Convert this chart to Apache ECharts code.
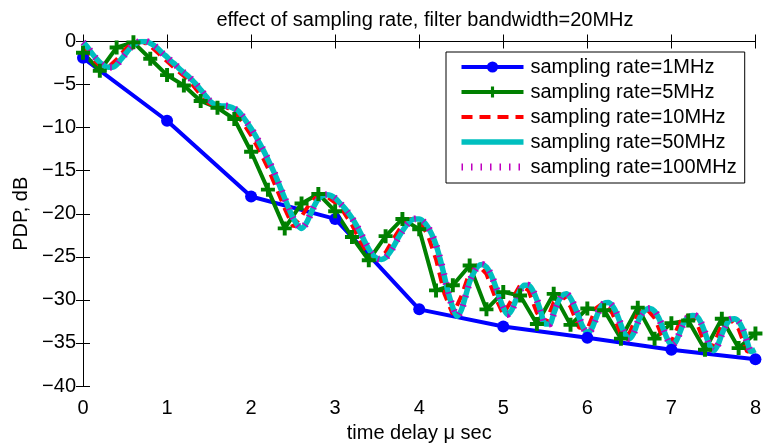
<!DOCTYPE html>
<html>
<head>
<meta charset="utf-8">
<script src="https://cdn.jsdelivr.net/npm/echarts@6/dist/echarts.min.js"></script>
<style>
  html, body { margin: 0; padding: 0; background: #fff; }
  #chart { width: 764px; height: 448px; }
</style>
</head>
<body>
<div id="chart"></div>
<script>
// Power delay profile (dB) versus time delay (microseconds) for several sampling rates.
const seriesNames = [
  'sampling rate=1MHz',
  'sampling rate=5MHz',
  'sampling rate=10MHz',
  'sampling rate=50MHz',
  'sampling rate=100MHz'
];

const xTicks = [0, 1, 2, 3, 4, 5, 6, 7, 8];
const yTicks = [-40, -35, -30, -25, -20, -15, -10, -5, 0];

// 1 MHz: one sample per microsecond
const step1 = 1;
const rate1 = [-1.9, -9.2, -18.0, -20.6, -31.1, -33.1, -34.4, -35.8, -36.9];

// 5 MHz: one sample every 0.2 us
const step5 = 0.2;
const rate5 = [
  -1.3, -3.4, -0.7, -0.1, -2.0, -3.9, -5.1, -6.9, -7.7, -9.0,
  -12.8, -17.2, -21.7, -18.8, -17.7, -19.7, -22.7, -25.4, -22.6, -20.6,
  -21.8, -28.9, -28.3, -26.0, -31.1, -29.1, -29.5, -32.8, -29.3, -32.9,
  -31.0, -31.2, -34.5, -30.9, -34.5, -32.7, -32.4, -35.8, -32.2, -35.6,
  -33.9
];

// 10 MHz: one sample every 0.1 us
const step10 = 0.1;
const rate10 = [
  -0.6, -1.9, -2.8, -3.0, -2.1, -0.9, -0.1, 0.0, -0.5, -1.4,
  -2.3, -3.2, -4.0, -5.0, -6.2, -7.2, -7.5, -7.6, -8.1, -9.4,
  -10.9, -12.7, -14.7, -17.0, -19.4, -21.5, -20.3, -18.8, -17.8, -18.0,
  -18.7, -19.8, -21.3, -23.2, -24.8, -25.3, -24.5, -22.8, -21.3, -20.6,
  -20.9, -22.4, -25.3, -29.3, -31.7, -29.6, -26.8, -25.9, -27.0, -29.6,
  -31.7, -30.0, -28.3, -28.9, -31.5, -32.8, -30.3, -29.3, -30.8, -33.2,
  -33.4, -31.0, -30.3, -31.6, -34.0, -33.9, -31.6, -31.0, -32.1, -34.5,
  -34.9, -32.6, -31.8, -32.6, -35.2, -35.3, -32.9, -32.2, -33.4, -36.0,
  -35.9
];

// 50 MHz: read every 0.05 us along the fine trace
const step50 = 0.05;
const rate50 = [
  -0.1, -0.6, -1.3, -1.9, -2.4, -2.8, -3.0, -3.0, -2.7, -2.1,
  -1.5, -0.9, -0.4, -0.1, 0.0, 0.0, -0.2, -0.5, -0.9, -1.4,
  -1.8, -2.3, -2.7, -3.2, -3.6, -4.0, -4.5, -5.0, -5.6, -6.2,
  -6.8, -7.2, -7.4, -7.5, -7.5, -7.6, -7.8, -8.1, -8.7, -9.4,
  -10.1, -10.9, -11.8, -12.7, -13.7, -14.7, -15.8, -17.0, -18.2, -19.4,
  -20.5, -21.3, -21.7, -21.2, -20.2, -19.1, -18.3, -17.9, -17.8, -17.9,
  -18.2, -18.7, -19.2, -19.8, -20.5, -21.3, -22.2, -23.2, -24.1, -24.8,
  -25.2, -25.3, -25.1, -24.5, -23.7, -22.8, -22.0, -21.3, -20.8, -20.6,
  -20.6, -20.9, -21.5, -22.4, -23.6, -25.3, -27.3, -29.3, -30.9, -31.9,
  -31.2, -29.6, -27.9, -26.8, -26.1, -25.9, -26.2, -27.0, -28.2, -29.6,
  -30.9, -31.7, -31.2, -30.0, -28.9, -28.3, -28.3, -28.9, -30.0, -31.5,
  -32.8, -32.8, -31.6, -30.3, -29.5, -29.3, -29.8, -30.8, -32.0, -33.2,
  -33.8, -33.4, -32.2, -31.0, -30.4, -30.3, -30.7, -31.6, -32.9, -34.0,
  -34.5, -33.9, -32.6, -31.6, -31.1, -31.0, -31.3, -32.1, -33.3, -34.5,
  -35.2, -34.9, -33.8, -32.6, -32.0, -31.8, -31.9, -32.6, -33.8, -35.2,
  -35.9, -35.3, -34.0, -32.9, -32.3, -32.2, -32.5, -33.4, -34.8, -36.0,
  -35.8
];

// 100 MHz: the trace lies on top of the 50 MHz one
const step100 = 0.05;
const rate100 = rate50.slice();

function pairs(values, step) {
  return values.map((v, i) => [Math.round(i * step * 1000) / 1000, v]);
}

const FONT = "'Liberation Sans', Arial, Helvetica, sans-serif";
const minus = v => String(v).replace('-', '\u2212');

const plusPath = 'path://M3.6,0H6.4V3.6H10V6.4H6.4V10H3.6V6.4H0V3.6H3.6Z';

const chart = echarts.init(document.getElementById('chart'), null, { renderer: 'canvas' });

const boxAxis = {
  axisLine: { show: true, lineStyle: { color: '#000', width: 1 } },
  axisTick: { show: true, inside: true, length: 7, lineStyle: { color: '#000', width: 1 } },
  splitLine: { show: false }
};

chart.setOption({
  animation: false,
  backgroundColor: '#fff',
  textStyle: { fontFamily: FONT },
  title: {
    text: 'effect of sampling rate, filter bandwidth=20MHz',
    left: 420,
    top: 5,
    textAlign: 'center',
    textStyle: { fontFamily: FONT, fontSize: 20, fontWeight: 'normal', color: '#000' }
  },
  grid: { left: 83, right: 7, top: 41.5, bottom: 58, containLabel: false },
  xAxis: [
    Object.assign({
      type: 'value', min: xTicks[0], max: xTicks[xTicks.length - 1], interval: 1,
      position: 'bottom',
      name: 'time delay \u03bc sec', nameLocation: 'middle', nameGap: 37,
      nameTextStyle: { fontFamily: FONT, fontSize: 20, color: '#000' },
      axisLabel: { margin: 12, fontFamily: FONT, fontSize: 20, color: '#000' }
    }, boxAxis),
    Object.assign({
      type: 'value', min: xTicks[0], max: xTicks[xTicks.length - 1], interval: 1,
      position: 'top', axisLabel: { show: false }
    }, boxAxis)
  ],
  yAxis: [
    Object.assign({
      type: 'value', min: yTicks[0], max: yTicks[yTicks.length - 1], interval: 5,
      position: 'left',
      name: 'PDP, dB', nameLocation: 'middle', nameGap: 52,
      nameTextStyle: { fontFamily: FONT, fontSize: 20, color: '#000' },
      axisLabel: { margin: 7, fontFamily: FONT, fontSize: 20, color: '#000', formatter: minus }
    }, boxAxis),
    Object.assign({
      type: 'value', min: yTicks[0], max: yTicks[yTicks.length - 1], interval: 5,
      position: 'right', axisLabel: { show: false }
    }, boxAxis)
  ],
  legend: {
    orient: 'vertical',
    left: 446,
    top: 52,
    padding: [5, 8, 6, 12],
    itemWidth: 62,
    itemHeight: 14,
    itemGap: 5,
    backgroundColor: '#fff',
    borderColor: '#000',
    borderWidth: 1,
    textStyle: { fontFamily: FONT, fontSize: 20, lineHeight: 20, color: '#000', padding: [0, 0, 0, 2] },
    lineStyle: { width: 'inherit', type: 'inherit' },
    data: [
      { name: seriesNames[0] },
      { name: seriesNames[1] },
      { name: seriesNames[2], itemStyle: { opacity: 0 } },
      { name: seriesNames[3], itemStyle: { opacity: 0 } },
      { name: seriesNames[4], itemStyle: { opacity: 0 } }
    ]
  },
  series: [
    {
      name: seriesNames[0], type: 'line', data: pairs(rate1, step1),
      symbol: 'circle', symbolSize: 12, showSymbol: true,
      lineStyle: { color: '#0000ff', width: 4 },
      itemStyle: { color: '#0000ff' }
    },
    {
      name: seriesNames[1], type: 'line', data: pairs(rate5, step5),
      symbol: plusPath, symbolSize: 14, showSymbol: true, symbolKeepAspect: true,
      lineStyle: { color: '#008000', width: 4 },
      itemStyle: { color: '#008000' }
    },
    {
      name: seriesNames[2], type: 'line', data: pairs(rate10, step10),
      symbol: 'none', showSymbol: false,
      lineStyle: { color: '#ff0000', width: 4, type: [11, 7] },
      itemStyle: { color: '#ff0000' }
    },
    {
      name: seriesNames[3], type: 'line', data: pairs(rate50, step50),
      symbol: 'none', showSymbol: false, smooth: 0.3,
      lineStyle: { color: '#00bfbf', width: 5.5 },
      itemStyle: { color: '#00bfbf' }
    },
    {
      name: seriesNames[4], type: 'line', data: pairs(rate100, step100),
      symbol: 'none', showSymbol: false, smooth: 0.3,
      lineStyle: { color: '#bf00bf', width: 7, type: [1.5, 8], cap: 'butt' },
      itemStyle: { color: '#bf00bf' }
    }
  ]
});
</script>
</body>
</html>
